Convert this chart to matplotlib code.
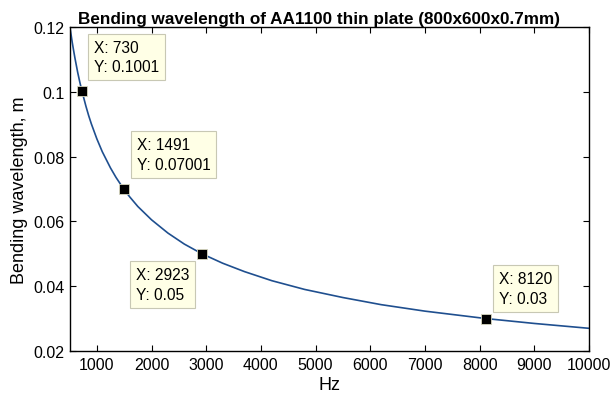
import matplotlib
matplotlib.use("Agg")
import matplotlib.pyplot as plt
from matplotlib.ticker import FormatStrFormatter

# Curve (Hz, m)
freq = [508, 550, 575, 600, 650, 690, 730, 800, 850, 900, 1000, 1100, 1250,
        1350, 1491, 1600, 1750, 2000, 2300, 2600, 2923, 3300, 3700, 4200,
        4800, 5500, 6200, 7000, 8120, 9000, 10000]
wavelength = [0.1200, 0.1153, 0.1128, 0.1104, 0.1060, 0.1029, 0.1001, 0.0956,
              0.0927, 0.0901, 0.0855, 0.0815, 0.0765, 0.0736, 0.0700, 0.0676,
              0.0646, 0.0605, 0.0564, 0.0530, 0.0500, 0.0471, 0.0445, 0.0417,
              0.0390, 0.0365, 0.0343, 0.0323, 0.0300, 0.0285, 0.0270]

# data tips
tip_x = [730, 1491, 2923, 8120]
tip_y = [0.1001, 0.07001, 0.05, 0.03]
tip_text = ["X: 730\nY: 0.1001", "X: 1491\nY: 0.07001",
            "X: 2923\nY: 0.05", "X: 8120\nY: 0.03"]

plt.rcParams["font.family"] = ["Liberation Sans", "DejaVu Sans"]

fig = plt.figure(figsize=(6.1, 4.02), dpi=100)
ax = fig.add_axes([0.1148, 0.1244, 0.8508, 0.8059])

ax.plot(freq, wavelength, color="#1f4f8f", lw=1.2)
ax.plot(tip_x, tip_y, "s", color="black", markersize=7,
        markeredgecolor="#d8d8c0", markeredgewidth=0.6, zorder=3)

# offsets in pixels and text alignment for each tip box
offsets = [(12, 17, "left", "bottom"), (13, 17, "left", "bottom"),
           (-13, -13, "right", "top"), (13, 13, "left", "bottom")]
for x, y, t, (dx, dy, ha, va) in zip(tip_x, tip_y, tip_text, offsets):
    ax.annotate(t, (x, y), xytext=(dx, dy), textcoords="offset pixels",
                ha=ha, va=va, multialignment="left", fontsize=11.2,
                linespacing=1.4,
                bbox=dict(boxstyle="square,pad=0.38", fc="#ffffe6",
                          ec="#c8c8b4", lw=0.8))

ax.set_xlim(510, 10000)
ax.set_ylim(0.02, 0.12)
ax.set_xticks(range(1000, 10001, 1000))
ax.set_yticks([0.02, 0.04, 0.06, 0.08, 0.1, 0.12])
ax.yaxis.set_major_formatter(FormatStrFormatter("%g"))
ax.tick_params(direction="in", top=True, right=True, length=4,
               labelsize=11.5, width=0.8, pad=4)
for s in ax.spines.values():
    s.set_linewidth(1.0)

ax.set_xlabel("Hz", fontsize=13, labelpad=3)
ax.set_ylabel("Bending wavelength, m", fontsize=13, labelpad=4)
ax.set_title("Bending wavelength of AA1100 thin plate (800x600x0.7mm)",
             fontsize=12.3, fontweight="bold", pad=3, x=0.48)

fig.savefig("out.png", dpi=100)
